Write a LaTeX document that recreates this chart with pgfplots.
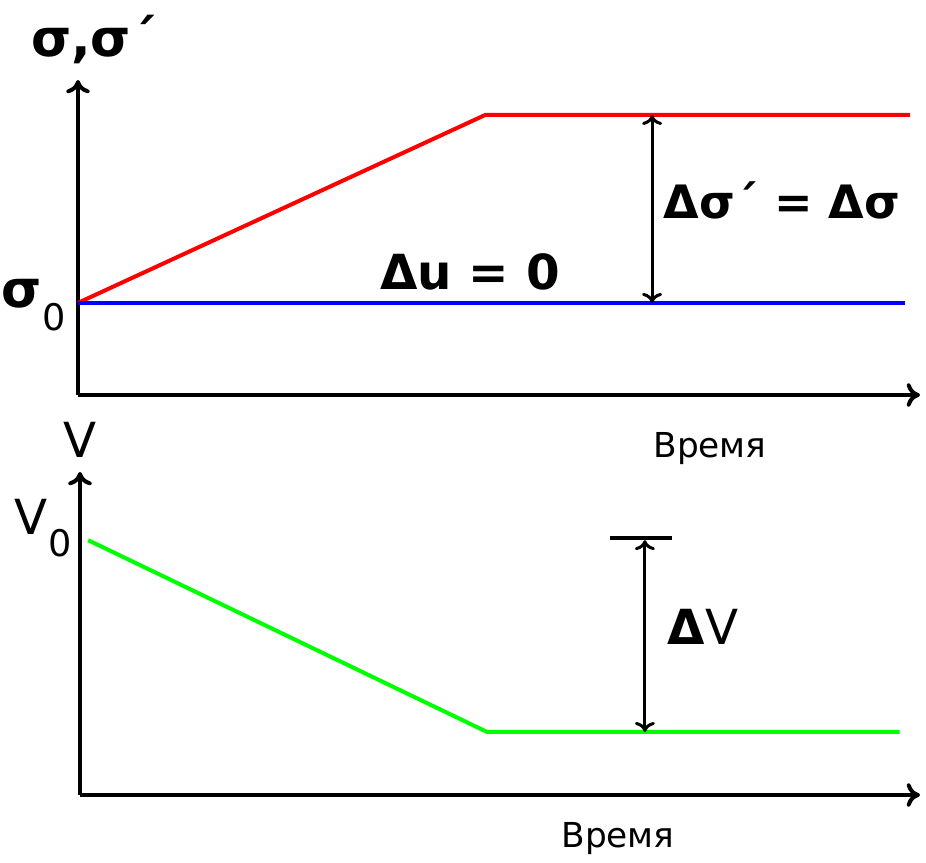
\documentclass[border=0pt]{standalone}
\usepackage{fontspec}
\setmainfont{DejaVu Sans}
\usepackage{pgfplots}
\pgfplotsset{compat=1.18}
\usetikzlibrary{arrows.meta}

% 1 px of the reference = 0.3pt
\pgfplotsset{
  panel/.style={
    scale only axis, axis lines=left, anchor=south west, clip=false,
    axis line style={line width=1.2pt, -{To[length=4pt,width=7pt]}},
    xtick=\empty, ytick=\empty, xmin=0, ymin=0,
  },
}
\newcommand\labelsize{\fontsize{14.5}{16}\selectfont}

\begin{document}
\begin{tikzpicture}
\path[use as bounding box] (0,0) rectangle (277.8pt,-258.9pt);

% top panel: stresses
\begin{axis}[panel, at={(23.4pt,-118.5pt)}, width=252.6pt, height=94.5pt, xmax=10.34, ymax=3.42]
\addplot[red, line width=1.2pt] coordinates {(0,1) (5,3.04) (10.22,3.04)};
\addplot[blue, line width=1.2pt] coordinates {(0,1) (10.16,1)};
\draw[{To[length=3pt,width=6pt]}-{To[length=3pt,width=6pt]}, line width=0.9pt]
  (axis cs:7.05,1) -- (axis cs:7.05,3.04);
\end{axis}

% bottom panel: volume
\begin{axis}[panel, at={(24pt,-238.5pt)}, width=252pt, height=96.9pt, xmax=10.32, ymax=5.07]
\addplot[green, line width=1.2pt] coordinates {(0.1,4) (5,0.99) (10.07,0.99)};
\draw[{To[length=3pt,width=6pt]}-{To[length=3pt,width=6pt]}, line width=0.9pt]
  (axis cs:6.94,0.99) -- (axis cs:6.94,4);
\draw[line width=1.2pt] (axis cs:6.51,4.03) -- (axis cs:7.27,4.03);
\end{axis}

% labels
\begin{scope}[x=0.3pt, y=-0.3pt]
\node[font=\fontsize{15.5}{17}\selectfont\bfseries] at (94,40) {σ,σ´};
\node[anchor=east, inner sep=0pt] at (66,305) {\fontsize{15.5}{17}\selectfont\bfseries σ\raisebox{-0.45em}{\normalfont\fontsize{11}{12}\selectfont 0}};
\node[font=\labelsize\bfseries] at (470,272) {Δu = 0};
\node[font=\fontsize{13.8}{16}\selectfont\bfseries] at (782,200) {Δσ´ = Δσ};
\node[font=\fontsize{10.3}{12}\selectfont] at (710,449) {Время};
\node[font=\labelsize] at (80,440) {V};
\node[anchor=east, inner sep=0pt] at (72,528) {\labelsize V\raisebox{-0.45em}{\fontsize{11}{12}\selectfont 0}};
\node[font=\labelsize] at (703,627) {{\bfseries Δ}V};
\node[font=\fontsize{10.3}{12}\selectfont] at (618,839) {Время};
\end{scope}
\end{tikzpicture}
\end{document}
